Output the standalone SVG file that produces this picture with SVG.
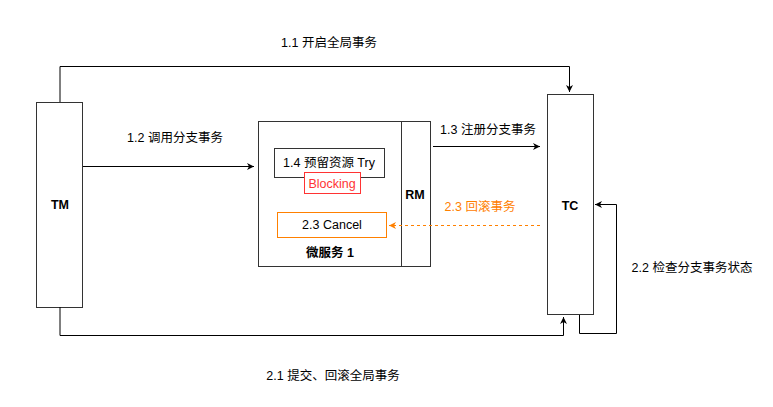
<svg xmlns="http://www.w3.org/2000/svg" width="773" height="407" viewBox="0 0 773 407">
<defs>
<marker id="ah" markerWidth="10" markerHeight="10" refX="8" refY="5" orient="auto" markerUnits="userSpaceOnUse"><path d="M1,1.5 L8,5 L1,8.5 L3,5 Z" fill="#000"/></marker>
<marker id="aho" markerWidth="10" markerHeight="10" refX="8" refY="5" orient="auto" markerUnits="userSpaceOnUse"><path d="M1,1.5 L8,5 L1,8.5 L3,5 Z" fill="#ff8000"/></marker>
<style>
.box{fill:#fff;stroke:#333;stroke-width:1}
.t{font-family:"Liberation Sans","Noto Sans CJK SC",sans-serif;font-size:12.5px;fill:#000;text-anchor:middle}
.b{font-weight:bold}
.e{fill:none;stroke:#000;stroke-width:1}
</style>
</defs>
<rect width="773" height="407" fill="#fff"/>
<g id="TM">
<rect class="box" x="36.5" y="102.5" width="46" height="205"/>
<text class="t b" x="60" y="209">TM</text>
</g>
<g id="TC">
<rect class="box" x="547.5" y="94.5" width="46" height="220"/>
<text class="t b" x="570" y="210">TC</text>
</g>
<g id="microservice">
<rect class="box" x="258.5" y="121.5" width="172" height="145"/>
<line x1="401.5" y1="121.5" x2="401.5" y2="266.5" stroke="#333"/>
<text class="t b" x="330" y="257">微服务 1</text>
<text class="t b" x="415" y="199">RM</text>
</g>
<g id="try">
<rect class="box" x="274.5" y="148.5" width="110" height="29"/>
<text class="t" x="329" y="167">1.4 预留资源 Try</text>
</g>
<g id="blocking">
<rect x="304.5" y="172.5" width="56" height="21" fill="#fff" stroke="#ff3333"/>
<text class="t" x="332" y="188" style="fill:#ff3333">Blocking</text>
</g>
<g id="cancel">
<rect x="277.5" y="212.5" width="109" height="25" fill="#fff" stroke="#ff8000"/>
<text class="t" x="332" y="229">2.3 Cancel</text>
</g>
<g id="connectors">
<path class="e" d="M60,102 V66.5 H569.5 V92" marker-end="url(#ah)"/>
<path class="e" d="M60,307 V335.5 H563.5 V317" marker-end="url(#ah)"/>
<path class="e" d="M579.5,315 V333.5 H616.5 V204.5 H595" marker-end="url(#ah)"/>
<path class="e" d="M83,166.5 H254" marker-end="url(#ah)"/>
<path class="e" d="M433,146.5 H540" marker-end="url(#ah)"/>
<path d="M540,225.5 H389" fill="none" stroke="#ff8000" stroke-dasharray="3,3" marker-end="url(#aho)"/>
<text class="t" x="329" y="47">1.1 开启全局事务</text>
<text class="t" x="333" y="380">2.1 提交、回滚全局事务</text>
<text class="t" x="692" y="272">2.2 检查分支事务状态</text>
<text class="t" x="175" y="142">1.2 调用分支事务</text>
<text class="t" x="488" y="134">1.3 注册分支事务</text>
<text class="t" x="480" y="211" style="fill:#ff8000">2.3 回滚事务</text>
</g>
</svg>
